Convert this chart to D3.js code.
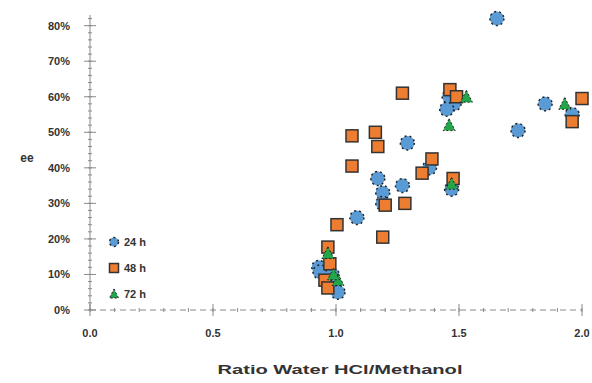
<!DOCTYPE html>
<html>
<head>
<meta charset="utf-8">
<script src="https://cdn.jsdelivr.net/npm/d3@7"></script>
<style>
  html, body { margin: 0; padding: 0; background: #fff; }
  svg { display: block; font-family: "Liberation Sans", Arial, sans-serif; }
</style>
</head>
<body>
<svg id="chart" width="592" height="383"></svg>
<script>
// Ratio values (x) and conversion (y) for each reaction time
const series24 = [
  [1.654, 0.82], [1.48, 0.58], [1.85, 0.58], [1.74, 0.505], [1.29, 0.47],
  [1.17, 0.37], [1.19, 0.33], [1.27, 0.35], [1.19, 0.30], [1.085, 0.26],
  [1.47, 0.34], [1.38, 0.40], [1.96, 0.55], [1.46, 0.60], [1.45, 0.565],
  [0.93, 0.12], [0.935, 0.107], [0.984, 0.10], [0.988, 0.07], [1.008, 0.05]
];
const series48 = [
  [1.27, 0.61], [1.065, 0.49], [1.16, 0.50], [1.17, 0.46], [1.065, 0.405],
  [1.39, 0.425], [1.35, 0.385], [1.28, 0.30], [1.004, 0.24], [1.19, 0.205],
  [1.20, 0.295], [1.476, 0.37], [1.463, 0.62], [1.49, 0.60], [2.0, 0.595],
  [1.96, 0.53], [0.967, 0.177], [0.955, 0.084], [0.967, 0.062], [0.975, 0.13]
];
const series72 = [
  [1.53, 0.60], [1.46, 0.52], [1.93, 0.58], [0.967, 0.16], [1.008, 0.084],
  [1.47, 0.355], [0.99, 0.10]
];
const seriesNames = ["24 h", "48 h", "72 h"];
const xTicks = [0, 0.5, 1.0, 1.5, 2.0];
const yTicks = [0, 0.1, 0.2, 0.3, 0.4, 0.5, 0.6, 0.7, 0.8];
const xTitle = "Ratio Water HCl/Methanol";
const yTitle = "ee";

const svg = d3.select("#chart");
const x = d3.scaleLinear().domain([0, 2]).range([90, 582]);
const y = d3.scaleLinear().domain([0, 0.83]).range([310, 15]);

const axisColor = "#8a8a8a";
const textColor = "#333";

// y axis with major and minor ticks crossing the spine
const gy = svg.append("g");
gy.append("line").attr("x1", x(0)).attr("x2", x(0)).attr("y1", y(0.83)).attr("y2", y(0))
  .attr("stroke", axisColor).attr("stroke-width", 1);
gy.selectAll(".minor").data(d3.range(0, 0.83, 0.02)).join("line")
  .attr("x1", x(0) - 2).attr("x2", x(0) + 2).attr("y1", d => y(d)).attr("y2", d => y(d))
  .attr("stroke", axisColor);
gy.selectAll(".major").data(yTicks).join("line")
  .attr("x1", x(0) - 6).attr("x2", x(0) + 6).attr("y1", d => y(d)).attr("y2", d => y(d))
  .attr("stroke", axisColor);
gy.selectAll("text").data(yTicks).join("text")
  .attr("x", 70).attr("y", d => y(d)).attr("dy", "0.35em").attr("text-anchor", "end")
  .attr("font-size", 11).attr("font-weight", "bold").attr("fill", textColor)
  .text(d => d3.format(".0%")(d));

// x axis: dashed baseline with major and minor ticks
const gx = svg.append("g");
gx.append("line").attr("x1", x(0)).attr("x2", x(2)).attr("y1", y(0)).attr("y2", y(0))
  .attr("stroke", axisColor).attr("stroke-dasharray", "6,4");
gx.selectAll(".minor").data(d3.range(0, 2.001, 0.1)).join("line")
  .attr("x1", d => x(d)).attr("x2", d => x(d)).attr("y1", y(0) - 2).attr("y2", y(0) + 2)
  .attr("stroke", axisColor);
gx.selectAll(".major").data(xTicks).join("line")
  .attr("x1", d => x(d)).attr("x2", d => x(d)).attr("y1", y(0) - 6).attr("y2", y(0) + 6)
  .attr("stroke", axisColor);
gx.selectAll("text").data(xTicks).join("text")
  .attr("x", d => x(d)).attr("y", 337).attr("text-anchor", "middle")
  .attr("font-size", 11).attr("font-weight", "bold").attr("fill", textColor)
  .text(d => d3.format(".1f")(d));

// axis titles
svg.append("text").attr("x", 340).attr("y", 374).attr("text-anchor", "middle")
  .attr("font-size", 13).attr("font-weight", "bold").attr("fill", textColor)
  .attr("textLength", 245).attr("lengthAdjust", "spacingAndGlyphs")
  .text(xTitle);
svg.append("text").attr("x", 27).attr("y", 158).attr("dy", "0.35em").attr("text-anchor", "middle")
  .attr("font-size", 12).attr("font-weight", "bold").attr("fill", textColor)
  .text(yTitle);

// marker painters
const blue = "#5b9bd5", orange = "#ed7d31", green = "#22a64a";
function drawCircle(g, cx, cy, r) {
  g.append("circle").attr("cx", cx).attr("cy", cy).attr("r", r)
    .attr("fill", blue).attr("stroke", "#222").attr("stroke-width", 1.5)
    .attr("stroke-dasharray", "2,3");
}
function drawSquare(g, cx, cy, s) {
  g.append("rect").attr("x", cx - s / 2).attr("y", cy - s / 2).attr("width", s).attr("height", s)
    .attr("fill", orange).attr("stroke", "#333").attr("stroke-width", 1.5);
}
function drawTriangle(g, cx, cy, s) {
  const h = s * 0.9;
  g.append("path")
    .attr("d", `M${cx},${cy - h / 2 - 1}L${cx + s / 2},${cy + h / 2}L${cx - s / 2},${cy + h / 2}Z`)
    .attr("fill", green).attr("stroke", "#222").attr("stroke-width", 1)
    .attr("stroke-dasharray", "2,2");
}

const marks = svg.append("g");
series24.forEach(d => drawCircle(marks, x(d[0]), y(d[1]), 7));
series48.forEach(d => drawSquare(marks, x(d[0]), y(d[1]), 12));
series72.forEach(d => drawTriangle(marks, x(d[0]), y(d[1]), 12));

// legend
const painters = [
  (g, cx, cy) => drawCircle(g, cx, cy, 4.5),
  (g, cx, cy) => drawSquare(g, cx, cy, 9),
  (g, cx, cy) => drawTriangle(g, cx, cy, 9)
];
const legend = svg.append("g");
seriesNames.forEach((name, i) => {
  const cy = 242 + i * 26;
  painters[i](legend, 114, cy);
  legend.append("text").attr("x", 124).attr("y", cy).attr("dy", "0.35em")
    .attr("font-size", 11).attr("font-weight", "bold").attr("fill", textColor)
    .text(name);
});
</script>
</body>
</html>
